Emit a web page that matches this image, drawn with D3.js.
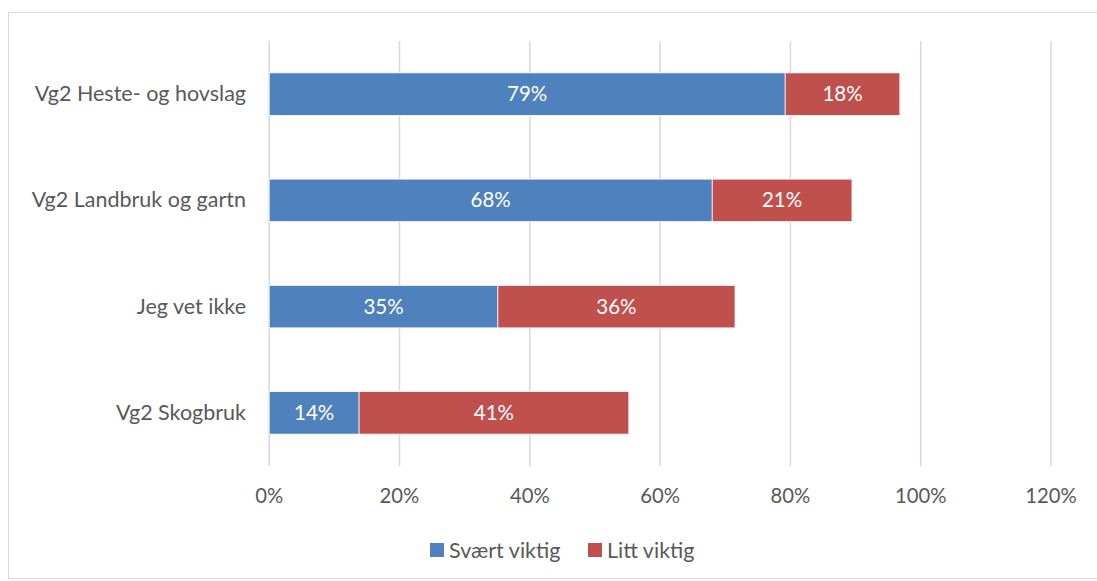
<!DOCTYPE html>
<html>
<head>
<meta charset="utf-8">
<script src="https://cdnjs.cloudflare.com/ajax/libs/d3/7.8.5/d3.min.js"></script>
<style>
  body { margin: 0; background: #fff; }
  text { font-family: Lato, "Open Sans", sans-serif; }
</style>
</head>
<body>
<div id="chart"></div>
<script>
// categories top to bottom
var categories = ["Vg2 Heste- og hovslag", "Vg2 Landbruk og gartn", "Jeg vet ikke", "Vg2 Skogbruk"];
var seriesNames = ["Svært viktig", "Litt viktig"];
var svaertViktig = [0.792, 0.680, 0.351, 0.138];
var littViktig = [0.176, 0.2145, 0.364, 0.414];
var xTicks = [0, 0.2, 0.4, 0.6, 0.8, 1.0, 1.2];
var colors = ["#4F81BD", "#C0504D"];

var width = 1097, height = 581;
var margin = {top: 41, right: 46, bottom: 115, left: 269.2};

var svg = d3.select("#chart").append("svg")
  .attr("width", width).attr("height", height);

// outer frame
svg.append("rect")
  .attr("x", 8.5).attr("y", 12.5)
  .attr("width", width).attr("height", 566)
  .attr("fill", "none").attr("stroke", "#d9d9d9");

var x = d3.scaleLinear().domain([0, 1.2]).range([margin.left, width - margin.right]);
var y = d3.scaleBand().domain(categories)
  .range([margin.top, height - margin.bottom]).paddingInner(0.6).paddingOuter(0.3);

// gridlines
svg.append("g").selectAll("line")
  .data(xTicks).enter().append("line")
  .attr("x1", d => x(d)).attr("x2", d => x(d))
  .attr("y1", margin.top).attr("y2", height - margin.bottom)
  .attr("stroke", "#d9d9d9").attr("stroke-width", 1.5);

// x tick labels
svg.append("g").selectAll("text")
  .data(xTicks).enter().append("text")
  .attr("x", d => x(d)).attr("y", 503)
  .attr("text-anchor", "middle")
  .attr("fill", "#595959").attr("font-size", 20.3)
  .text(d => d3.format(".0%")(d));

// category labels
svg.append("g").selectAll("text")
  .data(categories).enter().append("text")
  .attr("x", 246).attr("y", d => y(d) + y.bandwidth() / 2 + 7)
  .attr("text-anchor", "end")
  .attr("fill", "#595959").attr("font-size", 21.5)
  .text(d => d);

// stacked data
var rows = categories.map(function(c, i) {
  return {cat: c, vals: [svaertViktig[i], littViktig[i]]};
});
var segs = [];
rows.forEach(function(r) {
  var start = 0;
  r.vals.forEach(function(v, j) {
    segs.push({cat: r.cat, s: j, x0: start, x1: start + v, v: v});
    start += v;
  });
});

svg.append("g").selectAll("rect")
  .data(segs).enter().append("rect")
  .attr("x", d => x(d.x0)).attr("width", d => x(d.x1) - x(d.x0))
  .attr("y", d => y(d.cat)).attr("height", y.bandwidth())
  .attr("fill", d => colors[d.s])
  .attr("stroke", "#fff").attr("stroke-width", 0.75);

svg.append("g").selectAll("text")
  .data(segs).enter().append("text")
  .attr("x", d => (x(d.x0) + x(d.x1)) / 2)
  .attr("y", d => y(d.cat) + y.bandwidth() / 2 + 7)
  .attr("text-anchor", "middle")
  .attr("fill", "#fff").attr("font-size", 20.5)
  .text(d => d3.format(".0%")(d.v));

// legend
var legendX = [430, 588];
var leg = svg.append("g").selectAll("g")
  .data(seriesNames).enter().append("g")
  .attr("transform", (d, i) => "translate(" + legendX[i] + ",543)");
leg.append("rect").attr("width", 14).attr("height", 14)
  .attr("fill", (d, i) => colors[i]);
leg.append("text").attr("x", 19).attr("y", 14.5)
  .attr("fill", "#595959").attr("font-size", 21.5)
  .text(d => d);
</script>
</body>
</html>
